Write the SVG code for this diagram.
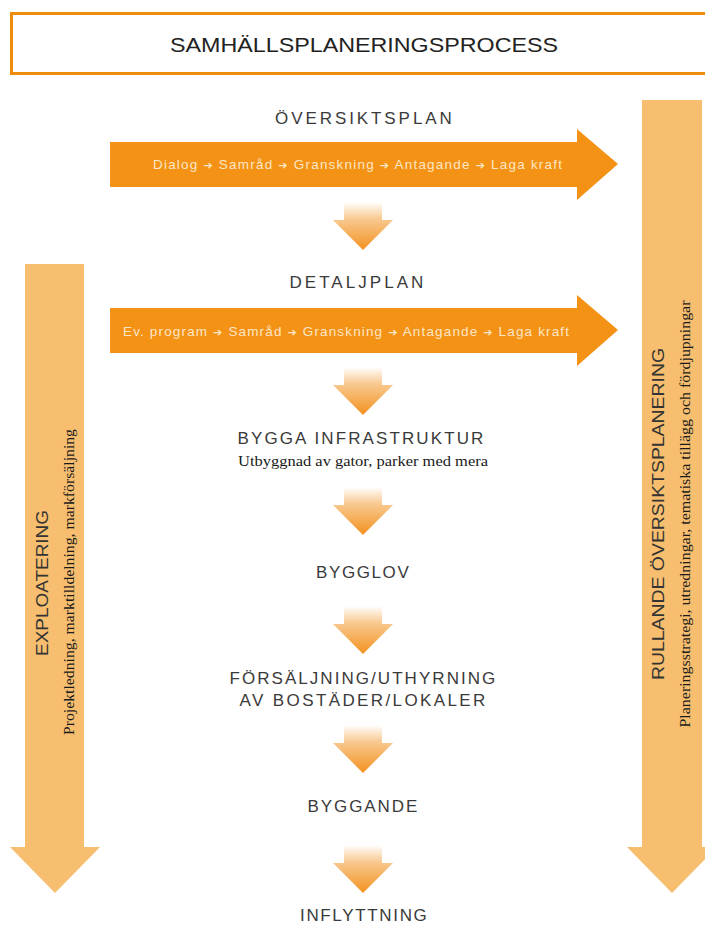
<svg xmlns="http://www.w3.org/2000/svg" width="705" height="926" viewBox="0 0 705 926">
<defs>
<linearGradient id="gdown" x1="0" y1="0" x2="0" y2="1">
<stop offset="0" stop-color="#ffffff"/>
<stop offset="0.35" stop-color="#f8c990"/>
<stop offset="1" stop-color="#f39220"/>
</linearGradient>
<path id="small" d="M-19,0 H19 V18 H30 L0,48 L-30,18 H-19 Z"/>
</defs>
<style>
.lbl{font-family:"Liberation Sans",Arial,sans-serif;font-size:17px;fill:#3a3a3a;text-anchor:middle;letter-spacing:1.2px}
.step{font-family:"Liberation Sans",Arial,sans-serif;font-size:13.5px;fill:#fde6c8}
.ar{font-family:"DejaVu Sans",sans-serif;font-size:11px;font-weight:bold}
.serif{font-family:"Liberation Serif","Times New Roman",serif;fill:#1a1a1a}
.big{fill:#f6be6e}
.horiz{fill:#f39214}
</style>
<rect width="705" height="926" fill="#ffffff"/>

<g id="title">
<rect x="11.5" y="13.5" width="700" height="60" fill="#ffffff" stroke="#f08c0c" stroke-width="3"/>
<text x="170" y="52" textLength="388" lengthAdjust="spacingAndGlyphs" style="font-family:'Liberation Sans',Arial,sans-serif;font-size:21px;fill:#222">SAMHÄLLSPLANERINGSPROCESS</text>
</g>

<g id="exploatering">
<path class="big" d="M25,264 H84 V847 H100 L55,893 L10,847 H25 Z"/>
<text transform="translate(48,583) rotate(-90)" text-anchor="middle" style="font-family:'Liberation Sans',Arial,sans-serif;font-size:17px;fill:#333" textLength="146" lengthAdjust="spacingAndGlyphs">EXPLOATERING</text>
<text class="serif" transform="translate(74,582) rotate(-90)" text-anchor="middle" font-size="15" textLength="306" lengthAdjust="spacingAndGlyphs">Projektledning, marktilldelning, markförsäljning</text>
</g>

<g id="rullande">
<path class="big" d="M642,100 H702 V847 H717 L672,893 L627,847 H642 Z"/>
<text transform="translate(664,514) rotate(-90)" text-anchor="middle" style="font-family:'Liberation Sans',Arial,sans-serif;font-size:17px;fill:#333" textLength="332" lengthAdjust="spacingAndGlyphs">RULLANDE  ÖVERSIKTSPLANERING</text>
<text class="serif" transform="translate(690,514) rotate(-90)" text-anchor="middle" font-size="15" textLength="427" lengthAdjust="spacingAndGlyphs">Planeringsstrategi, utredningar, tematiska tillägg och fördjupningar</text>
</g>

<g id="oversiktsplan">
<text class="lbl" x="364" y="124" textLength="178">ÖVERSIKTSPLAN</text>
<path class="horiz" d="M110,142 H577 V129 L618,164 L577,200 V187 H110 Z"/>
<text class="step" x="153" y="169" textLength="409">Dialog <tspan class="ar">➔</tspan> Samråd <tspan class="ar">➔</tspan> Granskning <tspan class="ar">➔</tspan> Antagande <tspan class="ar">➔</tspan> Laga kraft</text>
</g>

<g id="detaljplan">
<text class="lbl" x="357" y="288" textLength="135">DETALJPLAN</text>
<path class="horiz" d="M110,308 H577 V295 L618,330 L577,366 V353 H110 Z"/>
<text class="step" x="123" y="336" textLength="446">Ev. program <tspan class="ar">➔</tspan> Samråd <tspan class="ar">➔</tspan> Granskning <tspan class="ar">➔</tspan> Antagande <tspan class="ar">➔</tspan> Laga kraft</text>
</g>

<g id="infrastruktur">
<text class="lbl" x="361" y="444" textLength="247">BYGGA  INFRASTRUKTUR</text>
<text class="serif" x="363" y="466" font-size="14" text-anchor="middle" textLength="250" lengthAdjust="spacingAndGlyphs">Utbyggnad av gator, parker med mera</text>
</g>

<g id="bygglov">
<text class="lbl" x="363" y="578" textLength="94">BYGGLOV</text>
</g>

<g id="forsaljning">
<text class="lbl" x="363" y="684" textLength="267">FÖRSÄLJNING/UTHYRNING</text>
<text class="lbl" x="363" y="706" textLength="247">AV  BOSTÄDER/LOKALER</text>
</g>

<g id="byggande">
<text class="lbl" x="363" y="812" textLength="111">BYGGANDE</text>
</g>

<g id="inflyttning">
<text class="lbl" x="364" y="921" textLength="128">INFLYTTNING</text>
</g>

<g id="connectors">
<use href="#small" x="363" y="202" fill="url(#gdown)"/>
<use href="#small" x="363" y="367" fill="url(#gdown)"/>
<use href="#small" x="363" y="487" fill="url(#gdown)"/>
<use href="#small" x="363" y="606" fill="url(#gdown)"/>
<use href="#small" x="363" y="725" fill="url(#gdown)"/>
<use href="#small" x="363" y="845" fill="url(#gdown)"/>
</g>
</svg>
